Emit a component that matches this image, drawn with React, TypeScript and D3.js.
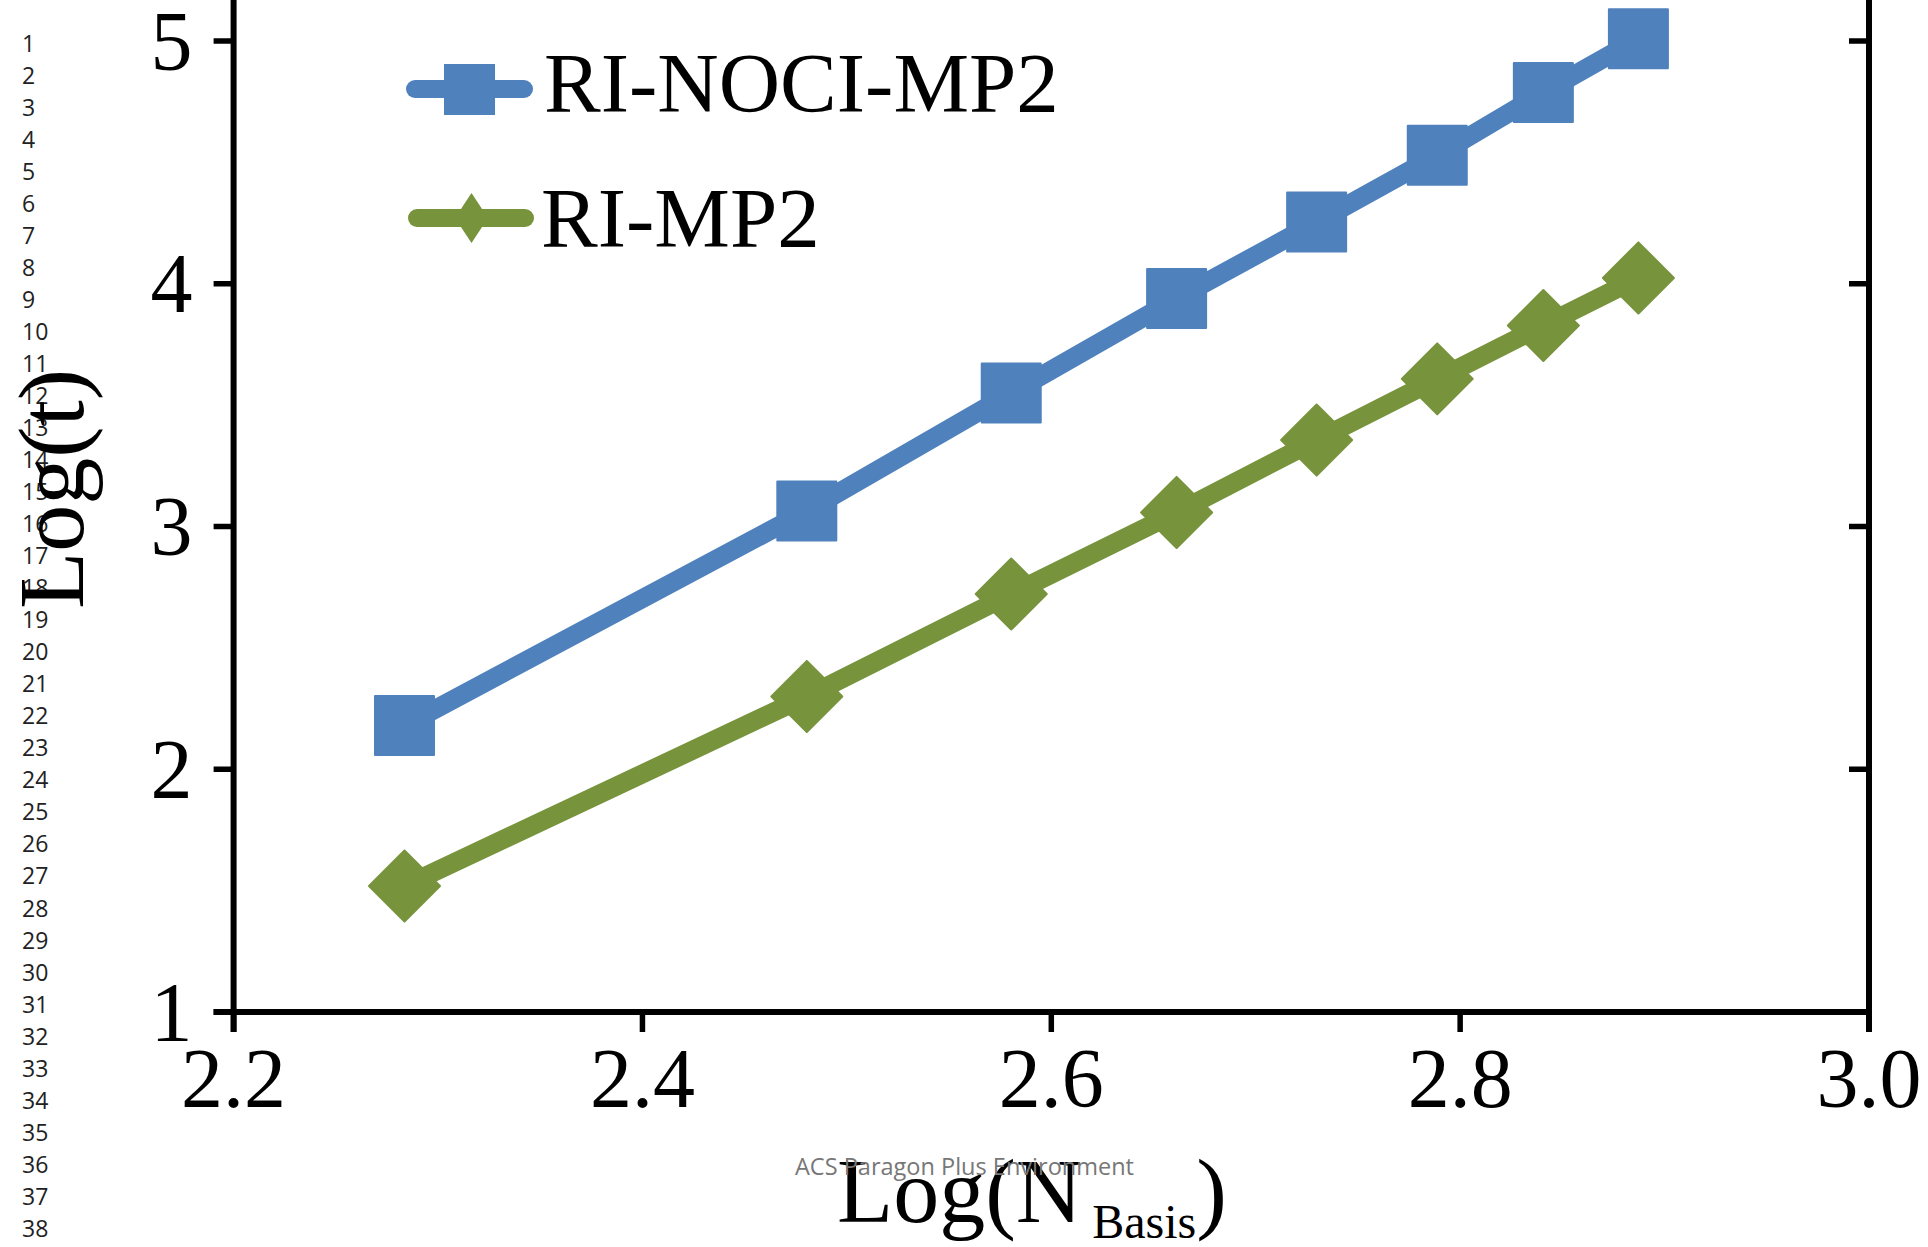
import React from "react";
import * as d3 from "d3";

const xValues = [2.2836, 2.4804, 2.5804, 2.6613, 2.7298, 2.7888, 2.8407, 2.8872];
const nociValues = [2.18, 3.064, 3.55, 3.939, 4.254, 4.529, 4.788, 5.009];
const mp2Values = [1.519, 2.3, 2.722, 3.058, 3.356, 3.608, 3.828, 4.024];
const seriesNames = ["RI-NOCI-MP2", "RI-MP2"];
const xTicks = [2.2, 2.4, 2.6, 2.8, 3.0];
const xTickLabels = ["2.2", "2.4", "2.6", "2.8", "3.0"];
const yTicks = [1, 2, 3, 4, 5];
const yTickLabels = ["1", "2", "3", "4", "5"];
const lineNumbers = d3.range(1, 39);

const W = 1928;
const H = 1247;
const BLUE = "#4F81BD";
const GREEN = "#77933C";
const SERIF = "'Liberation Serif', 'Times New Roman', serif";
const SANS = "'Open Sans', 'Noto Sans', sans-serif";

export default function App() {
  const x = d3.scaleLinear().domain([2.2, 3.0]).range([233.6, 1869]);
  const y = d3.scaleLinear().domain([1, 5]).range([1012, 41]);
  const yTop = y(6);
  const tick = 20;
  const axisW = 6;

  const line = d3.line<[number, number]>().x((d) => x(d[0])).y((d) => y(d[1]));
  const nociPts: [number, number][] = xValues.map((v, i) => [v, nociValues[i]]);
  const mp2Pts: [number, number][] = xValues.map((v, i) => [v, mp2Values[i]]);

  const sq = 61;
  const dh = 36.5;
  const diamond = (cx: number, cy: number, hw: number, hh: number) =>
    `M${cx},${cy - hh}L${cx + hw},${cy}L${cx},${cy + hh}L${cx - hw},${cy}Z`;

  const x0 = x(2.2);
  const x1 = x(3.0);
  const yb = y(1);

  return (
    <svg
      width={W}
      height={H}
      style={{ position: "absolute", left: 0, top: 0, background: "#fff" }}
    >
      <rect x={0} y={0} width={W} height={H} fill="#fff" />
      {/* line numbers */}
      {lineNumbers.map((n, i) => (
        <text
          key={n}
          x={22}
          y={51.7 + i * 32.03}
          fontFamily={SANS}
          fontSize={23}
          fill="#222"
        >
          {n}
        </text>
      ))}

      {/* series lines */}
      <path d={line(nociPts) || ""} fill="none" stroke={BLUE} strokeWidth={19} strokeLinejoin="round" />
      <path d={line(mp2Pts) || ""} fill="none" stroke={GREEN} strokeWidth={19} strokeLinejoin="round" />

      {/* markers */}
      {nociPts.map((p, i) => (
        <rect
          key={"s" + i}
          x={x(p[0]) - sq / 2 + 1}
          y={y(p[1]) - sq / 2 + 1}
          width={sq - 2}
          height={sq - 2}
          fill={BLUE}
          stroke={BLUE}
          strokeWidth={2}
          strokeLinejoin="round"
        />
      ))}
      {mp2Pts.map((p, i) => (
        <path
          key={"d" + i}
          d={diamond(x(p[0]), y(p[1]), dh - 1, dh - 1)}
          fill={GREEN}
          stroke={GREEN}
          strokeWidth={2}
          strokeLinejoin="round"
        />
      ))}

      {/* axes */}
      <line x1={x0} y1={yb + tick} x2={x0} y2={yTop} stroke="#000" strokeWidth={axisW} />
      <line x1={x1} y1={yb + tick} x2={x1} y2={yTop} stroke="#000" strokeWidth={axisW} />
      <line x1={x0 - tick} y1={yb} x2={x1} y2={yb} stroke="#000" strokeWidth={axisW} />
      {yTicks.map((t) => (
        <g key={"yt" + t}>
          <line x1={x0 - tick} y1={y(t)} x2={x0} y2={y(t)} stroke="#000" strokeWidth={5.5} />
          {t > 1 && (
            <line x1={x1 - tick} y1={y(t)} x2={x1} y2={y(t)} stroke="#000" strokeWidth={5.5} />
          )}
        </g>
      ))}
      {xTicks.map((t) => (
        <line key={"xt" + t} x1={x(t)} y1={yb} x2={x(t)} y2={yb + tick} stroke="#000" strokeWidth={5.5} />
      ))}

      {/* tick labels */}
      {yTicks.map((t, i) => (
        <text
          key={"yl" + t}
          x={x0 - 41}
          y={y(t) + 28.5}
          textAnchor="end"
          fontFamily={SERIF}
          fontSize={84}
          fill="#000"
        >
          {yTickLabels[i]}
        </text>
      ))}
      {xTicks.map((t, i) => (
        <text
          key={"xl" + t}
          x={x(t)}
          y={1107}
          textAnchor="middle"
          fontFamily={SERIF}
          fontSize={84}
          fill="#000"
        >
          {xTickLabels[i]}
        </text>
      ))}

      {/* axis titles */}
      <text
        transform="translate(83,489) rotate(-90)"
        textAnchor="middle"
        fontFamily={SERIF}
        fontSize={94}
        fill="#000"
      >
        Log(t)
      </text>
      <text x={837} y={1222} fontFamily={SERIF} fontSize={92} fill="#000">
        Log(N
        <tspan fontSize={48} dx={10} dy={16}>
          Basis
        </tspan>
        <tspan fontSize={92} dy={-16}>
          )
        </tspan>
      </text>

      {/* legend */}
      <line x1={415} y1={89} x2={524} y2={89} stroke={BLUE} strokeWidth={18} strokeLinecap="round" />
      <rect x={444} y={64} width={51} height={51} fill={BLUE} />
      <text x={544} y={112} fontFamily={SERIF} fontSize={85} fill="#000">
        {seriesNames[0]}
      </text>
      <line x1={417} y1={218} x2={525} y2={218} stroke={GREEN} strokeWidth={18} strokeLinecap="round" />
      <path d={diamond(471.5, 218, 16.5, 25)} fill={GREEN} />
      <text x={541} y={247} fontFamily={SERIF} fontSize={85} fill="#000">
        {seriesNames[1]}
      </text>

      {/* watermark */}
      <text
        x={795}
        y={1175}
        fontFamily={SANS}
        fontSize={24}
        fill="#777"
        textLength={339}
        lengthAdjust="spacingAndGlyphs"
      >
        ACS Paragon Plus Environment
      </text>
    </svg>
  );
}
